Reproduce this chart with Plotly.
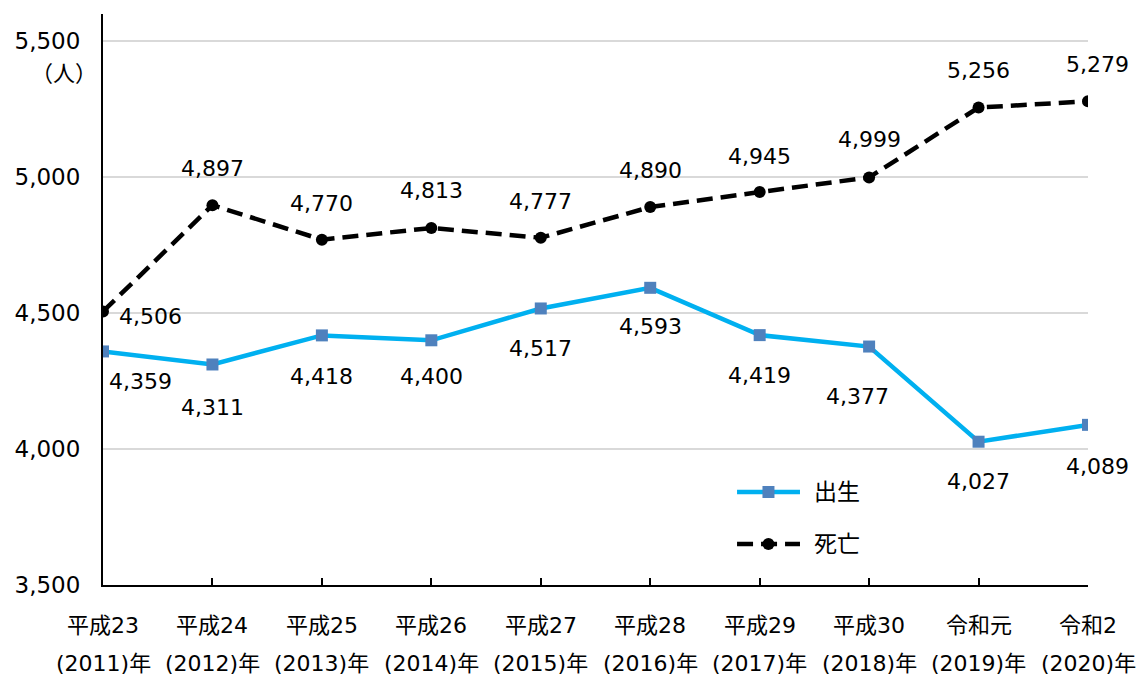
import plotly.graph_objects as go

categories_line1 = ["平成23", "平成24", "平成25", "平成26", "平成27", "平成28", "平成29", "平成30", "令和元", "令和2"]
categories_line2 = ["(2011)年", "(2012)年", "(2013)年", "(2014)年", "(2015)年", "(2016)年", "(2017)年", "(2018)年", "(2019)年", "(2020)年"]
births = [4359, 4311, 4418, 4400, 4517, 4593, 4419, 4377, 4027, 4089]
deaths = [4506, 4897, 4770, 4813, 4777, 4890, 4945, 4999, 5256, 5279]
y_ticks = [3500, 4000, 4500, 5000, 5500]
unit_label = "（人）"
series_names = ["出生", "死亡"]

# label offsets in pixels (style only)
birth_off = [(37, 30), (0, 43), (0, 41), (0, 36), (0, 40), (0, 39), (0, 40), (-12, 50), (0, 40), (9, 42)]
death_off = [(47, 5), (0, -37), (0, -36), (0, -37), (0, -36), (0, -37), (0, -36), (0, -38), (0, -37), (9, -37)]

FONT = "DejaVu Sans, Noto Sans CJK JP"
BLUE_LINE = "#00B0F0"
BLUE_MARK = "#4F81BD"
DASH = "16px,8px"
x = list(range(len(categories_line1)))

fig = go.Figure()
fig.add_trace(go.Scatter(
    x=x, y=births, name=series_names[0], mode="lines+markers",
    line=dict(color=BLUE_LINE, width=4.5),
    marker=dict(symbol="square", size=12, color=BLUE_MARK),
    showlegend=False,
))
fig.add_trace(go.Scatter(
    x=x, y=deaths, name=series_names[1], mode="lines+markers",
    line=dict(color="#000000", width=4.5, dash=DASH),
    marker=dict(symbol="circle", size=12, color="#000000"),
    showlegend=False,
))

ann = []
for i, v in enumerate(births):
    dx, dy = birth_off[i]
    ann.append(dict(x=i, y=v, xref="x", yref="y", text=f"{v:,}", showarrow=False,
                    xshift=dx, yshift=-dy, font=dict(size=22, color="#000", family=FONT)))
for i, v in enumerate(deaths):
    dx, dy = death_off[i]
    ann.append(dict(x=i, y=v, xref="x", yref="y", text=f"{v:,}", showarrow=False,
                    xshift=dx, yshift=-dy, font=dict(size=22, color="#000", family=FONT)))
for i, (a, b) in enumerate(zip(categories_line1, categories_line2)):
    ann.append(dict(x=i, y=0, xref="x", yref="paper", text=a, showarrow=False,
                    yanchor="middle", yshift=-40, font=dict(size=22, color="#000", family=FONT)))
    ann.append(dict(x=i, y=0, xref="x", yref="paper", text=b, showarrow=False,
                    yanchor="middle", yshift=-78, font=dict(size=22, color="#000", family=FONT)))
ann.append(dict(x=0, y=5500, xref="paper", yref="y", text=unit_label, showarrow=False,
                xanchor="center", yanchor="middle", xshift=-39, yshift=-32,
                font=dict(size=22, color="#000", family=FONT)))

# manual legend (paper coordinates)
leg_x0, leg_x1, leg_xm, leg_tx = 0.6437, 0.7076, 0.6756, 0.7200
leg_y = [0.1629, 0.0718]
shapes = [
    dict(type="line", xref="paper", yref="paper", x0=leg_x0, x1=leg_x1, y0=leg_y[0], y1=leg_y[0],
         line=dict(color=BLUE_LINE, width=4.5)),
    dict(type="rect", xref="paper", yref="paper", xsizemode="pixel", ysizemode="pixel",
         xanchor=leg_xm, yanchor=leg_y[0], x0=-6, x1=6, y0=-6, y1=6,
         fillcolor=BLUE_MARK, line=dict(width=0)),
    dict(type="line", xref="paper", yref="paper", x0=leg_x0, x1=leg_x1, y0=leg_y[1], y1=leg_y[1],
         line=dict(color="#000", width=4.5, dash=DASH)),
    dict(type="circle", xref="paper", yref="paper", xsizemode="pixel", ysizemode="pixel",
         xanchor=leg_xm, yanchor=leg_y[1], x0=-6, x1=6, y0=-6, y1=6,
         fillcolor="#000", line=dict(width=0)),
]
for name, yy in zip(series_names, leg_y):
    ann.append(dict(x=leg_tx, y=yy, xref="paper", yref="paper", text=name, showarrow=False,
                    xanchor="left", yanchor="middle", font=dict(size=23, color="#000", family=FONT)))

fig.update_layout(
    width=1142, height=677,
    margin=dict(l=103, r=54, t=14, b=92),
    plot_bgcolor="white", paper_bgcolor="white",
    font=dict(family=FONT, size=21, color="#000"),
    xaxis=dict(range=[0, 9], tickvals=x, showticklabels=False, ticks="inside", ticklen=7,
               tickcolor="#000", tickwidth=2, showline=True, linecolor="#000", linewidth=2,
               showgrid=False, zeroline=False),
    yaxis=dict(range=[3500, 5600], tickvals=y_ticks, tickformat=",", showline=True,
               linecolor="#000", linewidth=2, showgrid=True, gridcolor="#D9D9D9", gridwidth=1.5,
               zeroline=False, ticks="", ticklabelstandoff=16, tickfont=dict(size=23)),
    annotations=ann,
    shapes=shapes,
    showlegend=False,
)
fig.write_html("out.html", config={"displayModeBar": False},
               post_script="document.body.style.margin='0';document.body.style.overflow='hidden';")
